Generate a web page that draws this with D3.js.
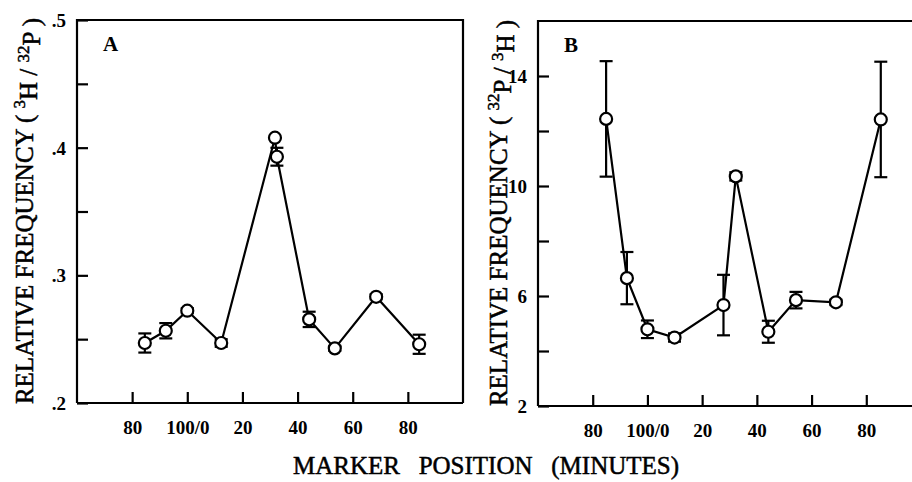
<!DOCTYPE html>
<html>
<head>
<meta charset="utf-8">
<script src="https://cdn.jsdelivr.net/npm/d3@7"></script>
<style>
  body { margin: 0; background: #fff; }
  svg { display: block; font-family: "Liberation Serif", "Times New Roman", serif; }
</style>
</head>
<body>
<script>
const W = 912, H = 482;

// map position in minutes; points left of 100/0 are given as negative (80 -> -20)
const xTicks = [-20, 0, 20, 40, 60, 80];
const xTickLabels = ["80", "100/0", "20", "40", "60", "80"];

// panel A : 3H / 32P
const posA = [-15.4, -7.8, 0, 12.3, 31.8, 32.5, 44.2, 53.5, 68.5, 84.1];
const valA = [0.247, 0.2566, 0.2723, 0.247, 0.4078, 0.3929, 0.2655, 0.2428, 0.2832, 0.246];
const errA = [0.0075, 0.006, 0.002, 0.003, 0, 0.007, 0.006, 0.002, 0.002, 0.0075];
const yTicksA = [0.2, 0.25, 0.3, 0.35, 0.4, 0.45, 0.5];
const yTickLabelsA = [".2", "", ".3", "", ".4", "", ".5"];

// panel B : 32P / 3H
const posB = [-15.1, -7.5, 0, 9.9, 27.8, 32.3, 44.2, 54.3, 68.9, 85.3];
const valB = [12.44, 6.65, 4.79, 4.49, 5.67, 10.35, 4.70, 5.85, 5.77, 12.42];
const errB = [2.1, 0.95, 0.32, 0.15, 1.1, 0.15, 0.4, 0.3, 0.1, 2.1];
const yTicksB = [2, 4, 6, 8, 10, 12, 14];
const yTickLabelsB = ["2", "", "6", "", "10", "", "14"];

const svg = d3.select("body").append("svg")
  .attr("width", W)
  .attr("height", H);

function panel(o) {
  const x = d3.scaleLinear().domain([-40, 100]).range([o.left, o.right]);
  const y = d3.scaleLinear().domain(o.yDomain).range([o.bottom, o.top]);
  const g = svg.append("g");

  // frame
  g.append("path")
    .attr("d", `M${o.left},${o.bottom}V${o.top}H${o.right}` + (o.closed ? `V${o.bottom}` : "") + `M${o.left},${o.bottom}H${o.right}`)
    .attr("fill", "none").attr("stroke", "#000").attr("stroke-width", 2.2);

  const xAxis = d3.axisBottom(x)
    .tickValues(xTicks)
    .tickFormat((d, i) => xTickLabels[i])
    .tickSizeInner(-11).tickSizeOuter(0).tickPadding(18);
  const gx = g.append("g").attr("transform", `translate(0,${o.bottom})`).call(xAxis);

  const yAxis = d3.axisLeft(y)
    .tickValues(o.yTicks)
    .tickFormat((d, i) => o.yLabels[i])
    .tickSizeInner(-11).tickSizeOuter(0).tickPadding(11);
  const gy = g.append("g").attr("transform", `translate(${o.left},0)`).call(yAxis);

  [gx, gy].forEach(a => {
    a.select(".domain").remove();
    a.selectAll(".tick line").attr("stroke-width", 2.2);
    a.selectAll(".tick text")
      .attr("font-family", "Liberation Serif")
      .attr("font-size", 19)
      .attr("font-weight", "bold")
      .attr("fill", "#000");
  });
  gy.selectAll(".tick text").attr("dy", "0.35em");

  const pts = o.pos.map((p, i) => ({p: p, v: o.val[i], e: o.err[i]}));

  // error bars
  const eb = g.append("g").attr("stroke", "#000").attr("stroke-width", 2.2);
  pts.filter(d => d.e > 0).forEach(d => {
    const cx = x(d.p);
    eb.append("line").attr("x1", cx).attr("x2", cx).attr("y1", y(d.v - d.e)).attr("y2", y(d.v + d.e));
    [d.v - d.e, d.v + d.e].forEach(v => {
      eb.append("line").attr("x1", cx - 6.5).attr("x2", cx + 6.5).attr("y1", y(v)).attr("y2", y(v));
    });
  });

  g.append("path")
    .datum(pts)
    .attr("fill", "none")
    .attr("stroke", "#000")
    .attr("stroke-width", 2.2)
    .attr("d", d3.line().x(d => x(d.p)).y(d => y(d.v)));

  g.selectAll("circle.pt")
    .data(pts)
    .join("circle")
    .attr("class", "pt")
    .attr("cx", d => x(d.p))
    .attr("cy", d => y(d.v))
    .attr("r", 6)
    .attr("fill", "#fff")
    .attr("stroke", "#000")
    .attr("stroke-width", 2.2);

  // panel letter
  g.append("text")
    .attr("x", o.left + 26).attr("y", o.top + 31)
    .attr("font-size", 21).attr("font-weight", "bold")
    .text(o.letter);

  // y title with superscripts
  const t = svg.append("text")
    .attr("transform", `translate(${o.titleX},${o.titleY}) rotate(-90)`)
    .attr("text-anchor", "middle")
    .attr("font-size", 25)
    .attr("stroke", "#000").attr("stroke-width", 0.5);
  t.append("tspan").text("RELATIVE FREQUENCY ( ");
  t.append("tspan").attr("dy", "-0.45em").attr("font-size", 17).text(o.iso1[0]);
  t.append("tspan").attr("dy", "0.45em").text(o.iso1[1] + " / ");
  t.append("tspan").attr("dy", "-0.45em").attr("font-size", 17).text(o.iso2[0]);
  t.append("tspan").attr("dy", "0.45em").text(o.iso2[1] + " )");
}

panel({
  left: 77, right: 463, top: 20, bottom: 403, closed: true,
  yDomain: [0.2, 0.5], yTicks: yTicksA, yLabels: yTickLabelsA,
  pos: posA, val: valA, err: errA, letter: "A",
  titleX: 33, titleY: 211, iso1: ["3", "H"], iso2: ["32", "P"]
});

panel({
  left: 538, right: 921, top: 21, bottom: 406, closed: false,
  yDomain: [2, 16], yTicks: yTicksB, yLabels: yTickLabelsB,
  pos: posB, val: valB, err: errB, letter: "B",
  titleX: 507, titleY: 213, iso1: ["32", "P"], iso2: ["3", "H"]
});

svg.append("text")
  .attr("x", 486).attr("y", 474)
  .attr("text-anchor", "middle")
  .attr("font-size", 25)
  .attr("stroke", "#000").attr("stroke-width", 0.5)
  .text("MARKER\u00a0\u00a0\u00a0POSITION\u00a0\u00a0\u00a0(MINUTES)");
</script>
</body>
</html>
